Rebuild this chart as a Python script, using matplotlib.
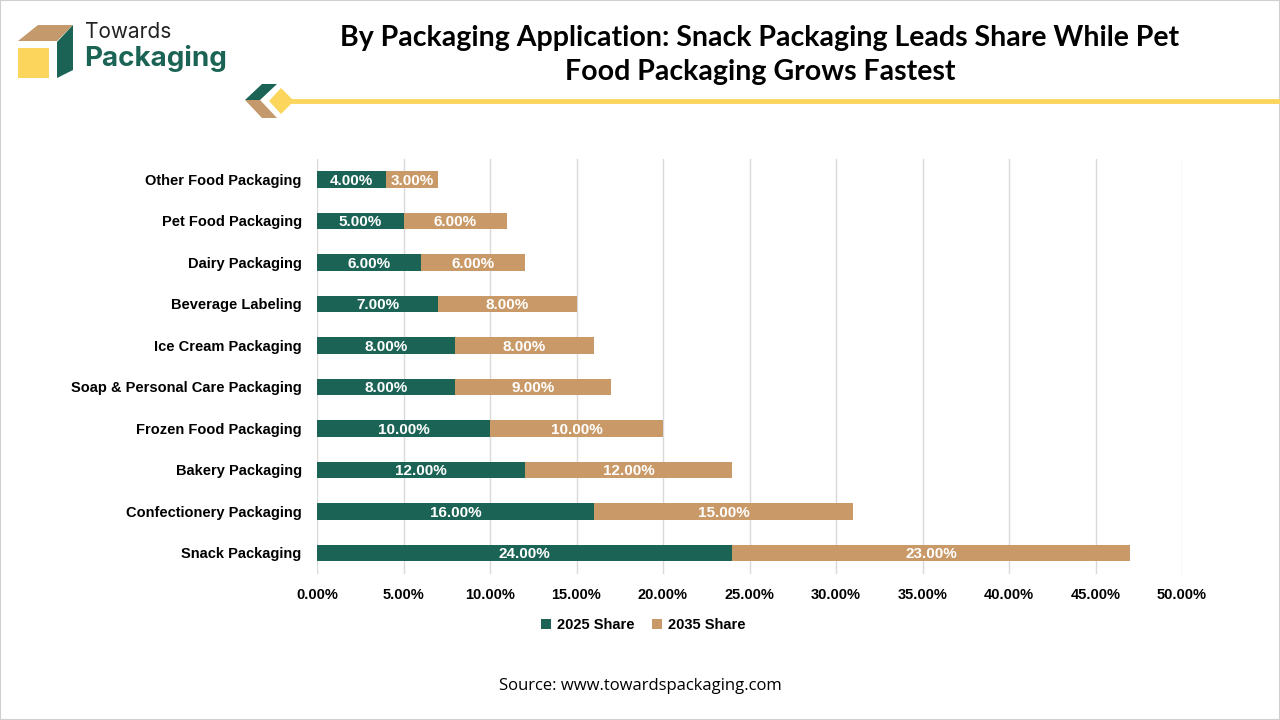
import matplotlib
matplotlib.use("Agg")
import matplotlib.pyplot as plt
from matplotlib.patches import Polygon, Rectangle
from matplotlib.lines import Line2D

categories = ["Snack Packaging", "Confectionery Packaging", "Bakery Packaging",
              "Frozen Food Packaging", "Soap & Personal Care Packaging",
              "Ice Cream Packaging", "Beverage Labeling", "Dairy Packaging",
              "Pet Food Packaging", "Other Food Packaging"]
share_2025 = [24, 16, 12, 10, 8, 8, 7, 6, 5, 4]
share_2035 = [23, 15, 12, 10, 9, 8, 8, 6, 6, 3]
xticks = [0, 5, 10, 15, 20, 25, 30, 35, 40, 45, 50]
series_names = ["2025 Share", "2035 Share"]

GREEN = "#1b6455"
TAN = "#c99a68"
YELLOW = "#fbd55c"

fig = plt.figure(figsize=(12.8, 7.2), dpi=100)
W, H = 1280, 720

def fx(x): return x / W
def fy(y): return 1 - y / H

ax = fig.add_axes([fx(317), fy(573.7), fx(1182) - fx(317), 415 / H])
y = list(range(len(categories)))
b1 = ax.barh(y, share_2025, height=0.39, color=GREEN, label=series_names[0], zorder=3)
b2 = ax.barh(y, share_2035, left=share_2025, height=0.39, color=TAN, label=series_names[1], zorder=3)
for bars, vals, lefts in [(b1, share_2025, [0]*len(y)), (b2, share_2035, share_2025)]:
    for i, (v, l) in enumerate(zip(vals, lefts)):
        ax.text(l + v / 2, i, f"{v:.2f}%", ha="center", va="center_baseline", color="white",
                fontsize=11, fontweight="bold", family="Liberation Sans", zorder=4)

ax.set_xlim(0, 50)
ax.set_ylim(-0.5, len(categories) - 0.5)
ax.set_xticks(xticks)
ax.set_xticklabels([f"{t:.2f}%" for t in xticks], fontsize=10.5, fontweight="bold",
                   family="Liberation Sans")
ax.set_yticks(y)
ax.set_yticklabels(categories, fontsize=10.5, fontweight="bold", family="Liberation Sans")
ax.tick_params(axis="x", length=0, pad=10)
ax.tick_params(axis="y", length=0, pad=11)
for s in ax.spines.values():
    s.set_visible(False)
ax.grid(axis="x", color="#d9d9d9", linewidth=1, zorder=0)
ax.set_axisbelow(True)

leg = fig.legend(handles=[b1, b2], labels=series_names, loc="center",
                 bbox_to_anchor=(fx(643), fy(625)), ncol=2, frameon=False,
                 prop={"family": "Liberation Sans", "weight": "bold", "size": 10.5},
                 handlelength=0.7, handleheight=0.7, handletextpad=0.4, columnspacing=1.2)

fig.text(fx(760), fy(55), "By Packaging Application: Snack Packaging Leads Share While Pet\nFood Packaging Grows Fastest",
         ha="center", va="center", fontsize=20.5, fontweight="bold", family="Lato",
         linespacing=1.4)

fig.text(fx(640), fy(686), "Source: www.towardspackaging.com", ha="center", va="center",
         fontsize=12, family="Open Sans")

# border
fig.add_artist(Rectangle((0, 0), 1, 1, transform=fig.transFigure, fill=False,
                         edgecolor="#d0d0d0", linewidth=1.5))

# logo
def poly(pts, color):
    fig.add_artist(Polygon([(fx(a), fy(b)) for a, b in pts], closed=True,
                           transform=fig.transFigure, facecolor=color, edgecolor="none"))

poly([(18, 41), (38, 25), (73, 25), (57, 41)], "#c4996b")
poly([(18, 48), (49, 48), (49, 78), (18, 78)], YELLOW)
poly([(57, 42), (73, 25), (73, 70), (57, 78)], GREEN)
fig.text(fx(85), fy(32), "Towards", fontsize=15, family="Inter", color="#222222",
         ha="left", va="center")
fig.text(fx(84), fy(58), "Packaging", fontsize=20, family="Inter", fontweight="bold",
         color=GREEN, ha="left", va="center")

# decorative line
fig.add_artist(Line2D([fx(285), fx(1280)], [fy(101), fy(101)], transform=fig.transFigure,
                      color=YELLOW, linewidth=3.5))
poly([(245, 100), (262, 84), (277, 84), (260, 100)], GREEN)
poly([(245, 100), (260, 100), (277, 118), (262, 118)], "#c4996b")
poly([(269, 101), (281, 88), (294, 101), (281, 114)], YELLOW)

fig.savefig("out.png", dpi=100)
